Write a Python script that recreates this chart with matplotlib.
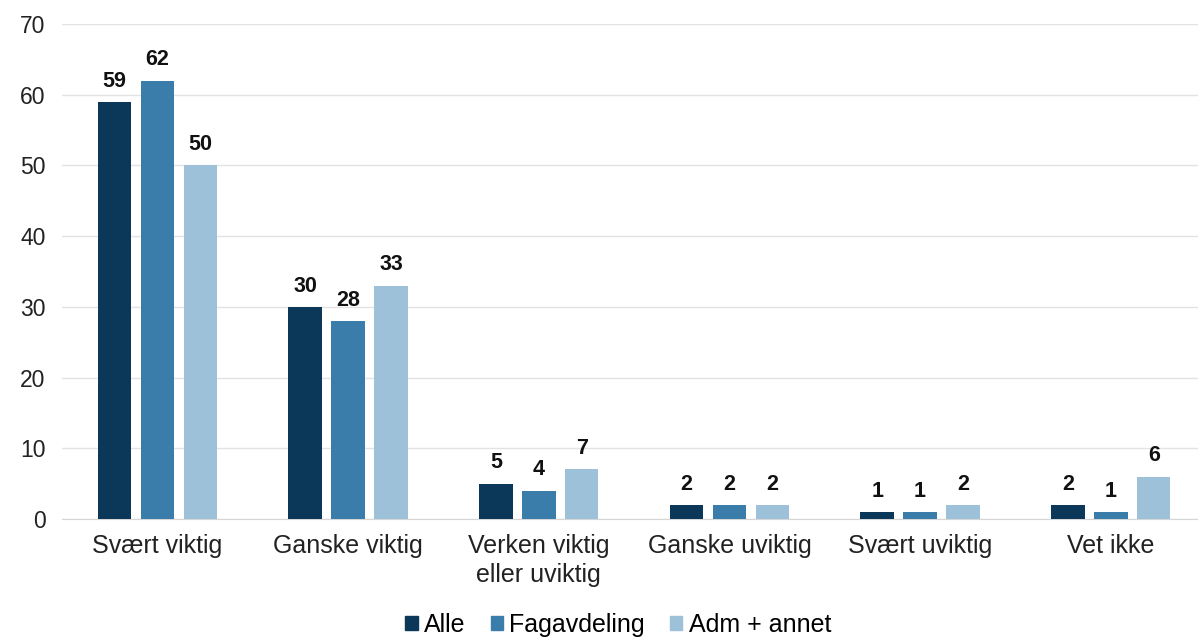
import numpy as np
import matplotlib.pyplot as plt
from matplotlib.patches import Patch

plt.rcParams['font.family'] = ['Liberation Sans', 'DejaVu Sans']

# svar fordelt paa gruppe (prosent)
categories = ['Svært viktig', 'Ganske viktig', 'Verken viktig\neller uviktig',
              'Ganske uviktig', 'Svært uviktig', 'Vet ikke']
series_names = ['Alle', 'Fagavdeling', 'Adm + annet']
alle = [59, 30, 5, 2, 1, 2]
fagavdeling = [62, 28, 4, 2, 1, 1]
adm_annet = [50, 33, 7, 2, 2, 6]

colors = ['#0b3758', '#3a7dab', '#9cc1d9']

fig = plt.figure(figsize=(11.98, 6.39), dpi=100)
ax = fig.add_axes([0.0518, 0.1878, 0.955, 0.7746])

x = np.arange(len(categories))
w = 0.176
step = 0.225
for i, (vals, c) in enumerate(zip([alle, fagavdeling, adm_annet], colors)):
    pos = x + (i - 1) * step
    ax.bar(pos, vals, width=w, color=c, zorder=3)
    for p, v in zip(pos, vals):
        ax.annotate(str(v), (p, v), xytext=(0, 11), textcoords='offset points',
                    ha='center', va='baseline', fontsize=15.5,
                    fontweight='bold', color='#111111')

ax.set_xlim(-0.5, len(categories) - 0.5)
ax.set_ylim(0, 70)
ax.set_yticks(range(0, 71, 10))
ax.set_xticks(x)
ax.set_xticklabels(categories, fontsize=18, color='#222222', linespacing=1.25)
ax.tick_params(axis='y', labelsize=16.5, colors='#222222', length=0, pad=12)
ax.tick_params(axis='x', length=0, pad=11)
ax.grid(axis='y', color='#e3e3e3', linewidth=1, zorder=0)
for s in ['top', 'right', 'left']:
    ax.spines[s].set_visible(False)
ax.spines['bottom'].set_color('#d6d6d6')

handles = [Patch(color=c, label=n) for c, n in zip(colors, series_names)]
fig.legend(handles=handles, loc='center', bbox_to_anchor=(0.516, 0.022),
           ncol=3, frameon=False, fontsize=18, handlelength=0.5,
           handleheight=0.5, handletextpad=0.25, columnspacing=1.0)

fig.savefig('out.png', dpi=100)
